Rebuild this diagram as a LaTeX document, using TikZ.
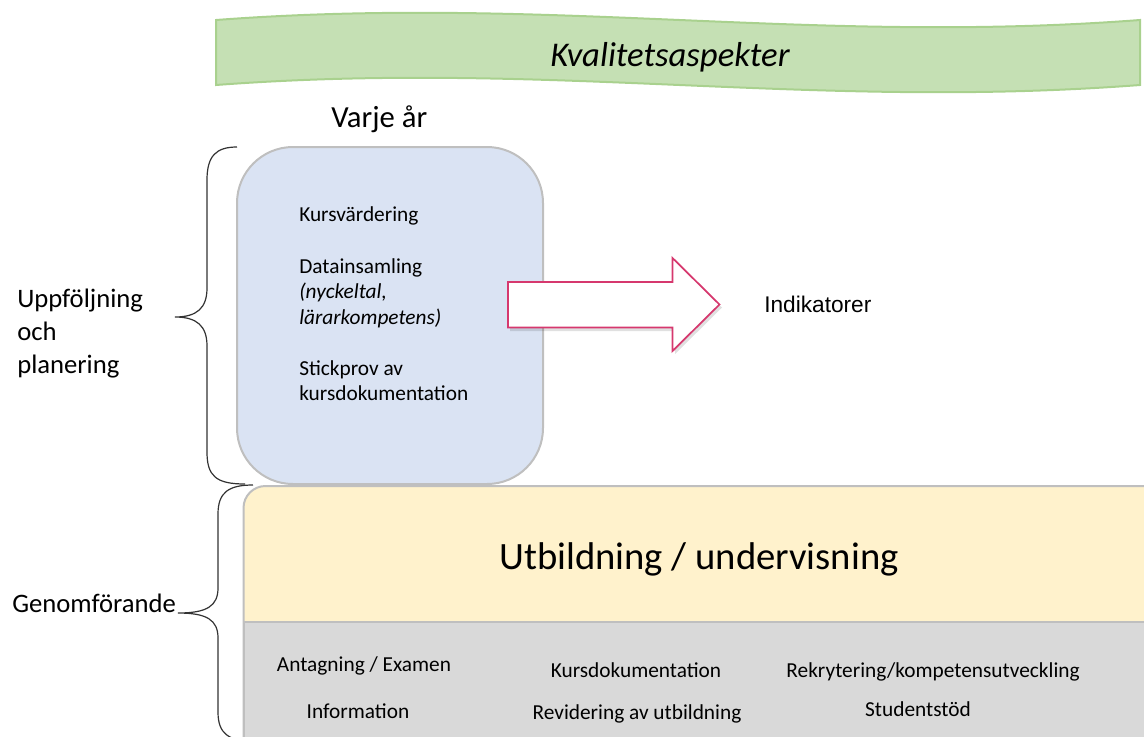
\documentclass[tikz,border=0pt]{standalone}
\usepackage{fontspec}
\setmainfont{Carlito}
\newfontfamily\arialfont{Liberation Sans}
\definecolor{bannerfill}{HTML}{C5E0B4}
\definecolor{bannerline}{HTML}{A9D18E}
\definecolor{bluefill}{HTML}{DAE3F3}
\definecolor{boxline}{HTML}{BFBFBF}
\definecolor{yellowfill}{HTML}{FFF2CC}
\definecolor{grayfill}{HTML}{D9D9D9}
\definecolor{arrowline}{RGB}{214,56,110}
\begin{document}
\begin{tikzpicture}[x=0.75pt,y=-0.75pt,
  bodytxt/.style={inner sep=0pt, anchor=base west, font=\fontsize{16}{19}\selectfont},
  graytxt/.style={inner sep=0pt, anchor=base, font=\fontsize{16}{19}\selectfont},
  sidetxt/.style={inner sep=0pt, anchor=base west, font=\fontsize{20}{24}\selectfont},
  bracestyle/.style={draw=black!80, line width=0.9pt},
]
\useasboundingbox (0,0) rectangle (1144,736);
\clip (0,0) rectangle (1144,736);

% banner
\path[fill=bannerfill, draw=bannerline, line width=1.5pt]
  (216,20) .. controls (550,-5) and (810,45) .. (1140,20)
  -- (1140,85) .. controls (810,110) and (550,60) .. (216,85) -- cycle;
\node[inner sep=0pt, anchor=base, font=\fontsize{26}{30}\selectfont\itshape] (banner) at (670,66) {Kvalitetsaspekter};

% Varje år
\node[inner sep=0pt, anchor=base west, font=\fontsize{23}{27}\selectfont] (year) at (331,127) {Varje år};

% blue box
\node[draw=boxline, fill=bluefill, line width=1.5pt, rounded corners=42pt,
      minimum width=229.5pt, minimum height=252.75pt, inner sep=0pt] (yearbox) at (390,315.5) {};
\node[bodytxt] (t1) at (299,221) {Kursvärdering};
\node[bodytxt] (t2) at (299,273) {Datainsamling};
\node[bodytxt, font=\fontsize{16}{19}\selectfont\itshape] (t3) at (299,298.5) {(nyckeltal,};
\node[bodytxt, font=\fontsize{16}{19}\selectfont\itshape] (t4) at (299,324) {lärarkompetens)};
\node[bodytxt] (t5) at (299,375) {Stickprov av};
\node[bodytxt] (t6) at (299,400.5) {kursdokumentation};

% block arrow
\path[fill=black, opacity=0.12]
  (510,285) -- (675,285) -- (675,261) -- (722,307.5) -- (675,354) -- (675,331) -- (510,331) -- cycle;
\path[fill=white, draw=arrowline, line width=1.3pt, line join=miter]
  (508,282) -- (672.5,282) -- (672.5,258) -- (719.5,304.5) -- (672.5,351) -- (672.5,327.5) -- (508,327.5) -- cycle;
\node[inner sep=0pt, anchor=base west, font=\arialfont\fontsize{17}{20}\selectfont] (ind) at (764,312) {Indikatorer};

% bottom box
\path[fill=yellowfill, draw=boxline, line width=1.5pt, rounded corners=16.5pt]
  (243.5,760) -- (243.5,486) -- (1165,486) -- (1165,760) -- cycle;
\path[fill=grayfill, draw=boxline, line width=1.5pt]
  (243.5,621.5) rectangle (1165,760);
\node[inner sep=0pt, anchor=base, font=\fontsize{29}{34}\selectfont] (edu) at (699,569) {Utbildning / undervisning};
\node[graytxt] (g1) at (364,671) {Antagning / Examen};
\node[graytxt] (g2) at (358,718) {Information};
\node[graytxt] (g3) at (636,677) {Kursdokumentation};
\node[graytxt] (g4) at (637,719) {Revidering av utbildning};
\node[graytxt] (g5) at (933,677) {Rekrytering/kompetensutveckling};
\node[graytxt] (g6) at (918,716) {Studentstöd};

% braces
\draw[bracestyle]
  (237,147) .. controls (216,147) and (207,156) .. (207,180) -- (207,288)
  .. controls (207,308) and (197,317) .. (175,317)
  .. controls (197,317) and (207,326) .. (207,346) -- (207,452)
  .. controls (207,476) and (216,484) .. (245,484);
\draw[bracestyle]
  (253,485) .. controls (229,485) and (218,492) .. (218,514) -- (218,588)
  .. controls (218,606) and (207,613) .. (178,613)
  .. controls (207,613) and (218,620) .. (218,638) -- (218,712)
  .. controls (218,734) and (229,741) .. (253,741);

\node[sidetxt] (s1) at (17,307) {Uppföljning};
\node[sidetxt] (s2) at (17,340) {och};
\node[sidetxt] (s3) at (17,373) {planering};
\node[sidetxt] (s4) at (12,612) {Genomförande};
\end{tikzpicture}
\end{document}
